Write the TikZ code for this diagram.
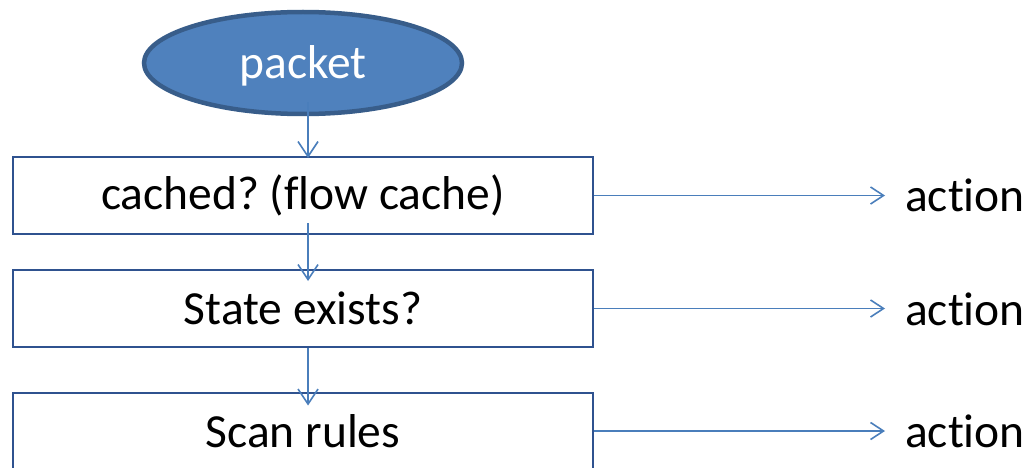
\documentclass[tikz,border=0pt]{standalone}
\usepackage{fontspec}
\setmainfont{Carlito}[RawFeature={-liga;-clig;-calt;-dlig}]
\usetikzlibrary{shapes.geometric,arrows.meta}
\frenchspacing

\definecolor{accentfill}{HTML}{4F81BD}
\definecolor{accentedge}{HTML}{385D8A}
\definecolor{boxedge}{HTML}{2F528F}
\definecolor{linkblue}{HTML}{4A7EBB}

\tikzset{
  bigtext/.style={font=\fontsize{47.5}{56}\selectfont},
  startnode/.style={ellipse, fill=accentfill, draw=accentedge, line width=4.5pt,
    minimum width=318pt, minimum height=102pt, inner sep=0pt,
    text=white, bigtext},
  stepbox/.style={rectangle, draw=boxedge, line width=2pt, fill=white,
    minimum width=580pt, minimum height=77pt, inner sep=0pt, bigtext},
  outlabel/.style={anchor=west, inner sep=0pt, bigtext},
  downlink/.style={draw=linkblue, line width=1.6pt,
    -{Straight Barb[length=15pt,width=20pt,line width=1.6pt]}},
  sidelink/.style={draw=linkblue, line width=1.6pt,
    -{Straight Barb[length=13pt,width=17pt,line width=1.6pt]}}
}

\begin{document}
\begin{tikzpicture}[x=1pt,y=-1pt]
  \useasboundingbox (0,0) rectangle (1027,468);

  % start node
  \node[startnode] (pk) at (303,63) {};
  \node[text=white, bigtext, inner sep=0pt] (pkt) at (303,66) {packet};

  % decision boxes
  \node[stepbox] (b1) at (303,195.5) {cached? (flow cache)};
  \node[stepbox] (b2) at (303,308.5) {State exists?};
  \node[stepbox] (b3) at (303,431) {Scan rules};

  % outcomes
  \node[outlabel] (a1) at (905,195) {action};
  \node[outlabel] (a2) at (905,309) {action};
  \node[outlabel] (a3) at (905,431) {action};

  % arrow tips just short of each outcome
  \coordinate (t1) at ([xshift=-20pt]a1.west);
  \coordinate (t2) at ([xshift=-20pt]a2.west);
  \coordinate (t3) at ([xshift=-20pt]a3.west);

  % vertical flow
  \draw[downlink] ([xshift=5pt,yshift=14pt]pk.south) -- ([xshift=5pt,yshift=-2pt]b1.north);
  \draw[downlink] ([xshift=5pt,yshift=12pt]b1.south) -- ([xshift=5pt,yshift=-12pt]b2.north);
  \draw[downlink] ([xshift=5pt]b2.south) -- ([xshift=5pt,yshift=-14pt]b3.north);

  % horizontal links to outcomes
  \draw[sidelink] (b1.east) -- (b1.east -| t1);
  \draw[sidelink] (b2.east) -- (b2.east -| t2);
  \draw[sidelink] (b3.east) -- (b3.east -| t3);
\end{tikzpicture}
\end{document}
